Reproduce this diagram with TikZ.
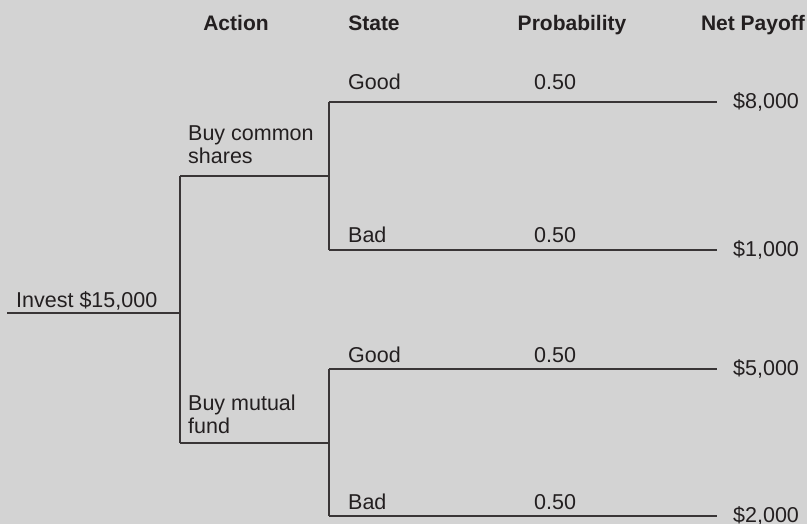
\documentclass[tikz,border=0pt]{standalone}
\usepackage{fontspec}
\setmainfont{Liberation Sans}
\definecolor{bggray}{RGB}{211,211,211}
\definecolor{ink}{RGB}{35,31,32}
\tikzset{
  branch/.style={draw=ink!90, line width=1.2pt},
  lab/.style={anchor=base west, inner sep=0pt, text=ink},
  head/.style={anchor=base, inner sep=0pt, text=ink, font=\fontsize{21}{25}\selectfont\bfseries},
  pay/.style={anchor=west, inner sep=0pt, text=ink}
}
\begin{document}
\begin{tikzpicture}[x=1pt, y=-1pt, font=\fontsize{21.5}{23}\selectfont]
\fill[bggray](0,0)rectangle(807,524);
\useasboundingbox (0,0) rectangle (807,524);
% column heads
\node[head] (hact) at (236,31){Action};
\node[head] (hsta) at (374,31){State};
\node[head] (hpro) at (572,31){Probability};
\node[head] (hpay) at (753,31){Net Payoff};

% tree points
\coordinate (root) at (7,313);
\coordinate (act) at (180,313);
\coordinate (acta) at (180,176);
\coordinate (actb) at (180,443);
\coordinate (sta) at (329,176);
\coordinate (stb) at (329,443);
\coordinate (sa1) at (329,102);
\coordinate (sa2) at (329,250);
\coordinate (sb1) at (329,369);
\coordinate (sb2) at (329,516);
\coordinate (ea1) at (717,102);
\coordinate (ea2) at (717,250);
\coordinate (eb1) at (717,369);
\coordinate (eb2) at (717,516);

\draw[branch](root)--(act);
\draw[branch](acta)--(actb);
\draw[branch](acta)--(sta);
\draw[branch](actb)--(stb);
\draw[branch](sa1)--(sa2);
\draw[branch](sb1)--(sb2);
\draw[branch](sa1)--(ea1);
\draw[branch](sa2)--(ea2);
\draw[branch](sb1)--(eb1);
\draw[branch](sb2)--(eb2);

% labels
\node[lab] (inv) at (16,307){Invest \$15,000};
\node[lab, align=left] (buya) at (188,164){Buy common\\shares};
\node[lab, align=left] (buyb) at (188,433){Buy mutual\\fund};
\node[lab] (ga) at (348,90){Good};
\node[lab] (ba) at (348,243){Bad};
\node[lab] (gb) at (348,362){Good};
\node[lab] (bb) at (348,509){Bad};
\node[lab] (pa1) at (534,90){0.50};
\node[lab] (pa2) at (534,243){0.50};
\node[lab] (pb1) at (534,362){0.50};
\node[lab] (pb2) at (534,509){0.50};
\node[pay] (va1) at (733,102){\$8,000};
\node[pay] (va2) at (733,250){\$1,000};
\node[pay] (vb1) at (733,369){\$5,000};
\node[pay] (vb2) at (733,516){\$2,000};
\end{tikzpicture}
\end{document}
